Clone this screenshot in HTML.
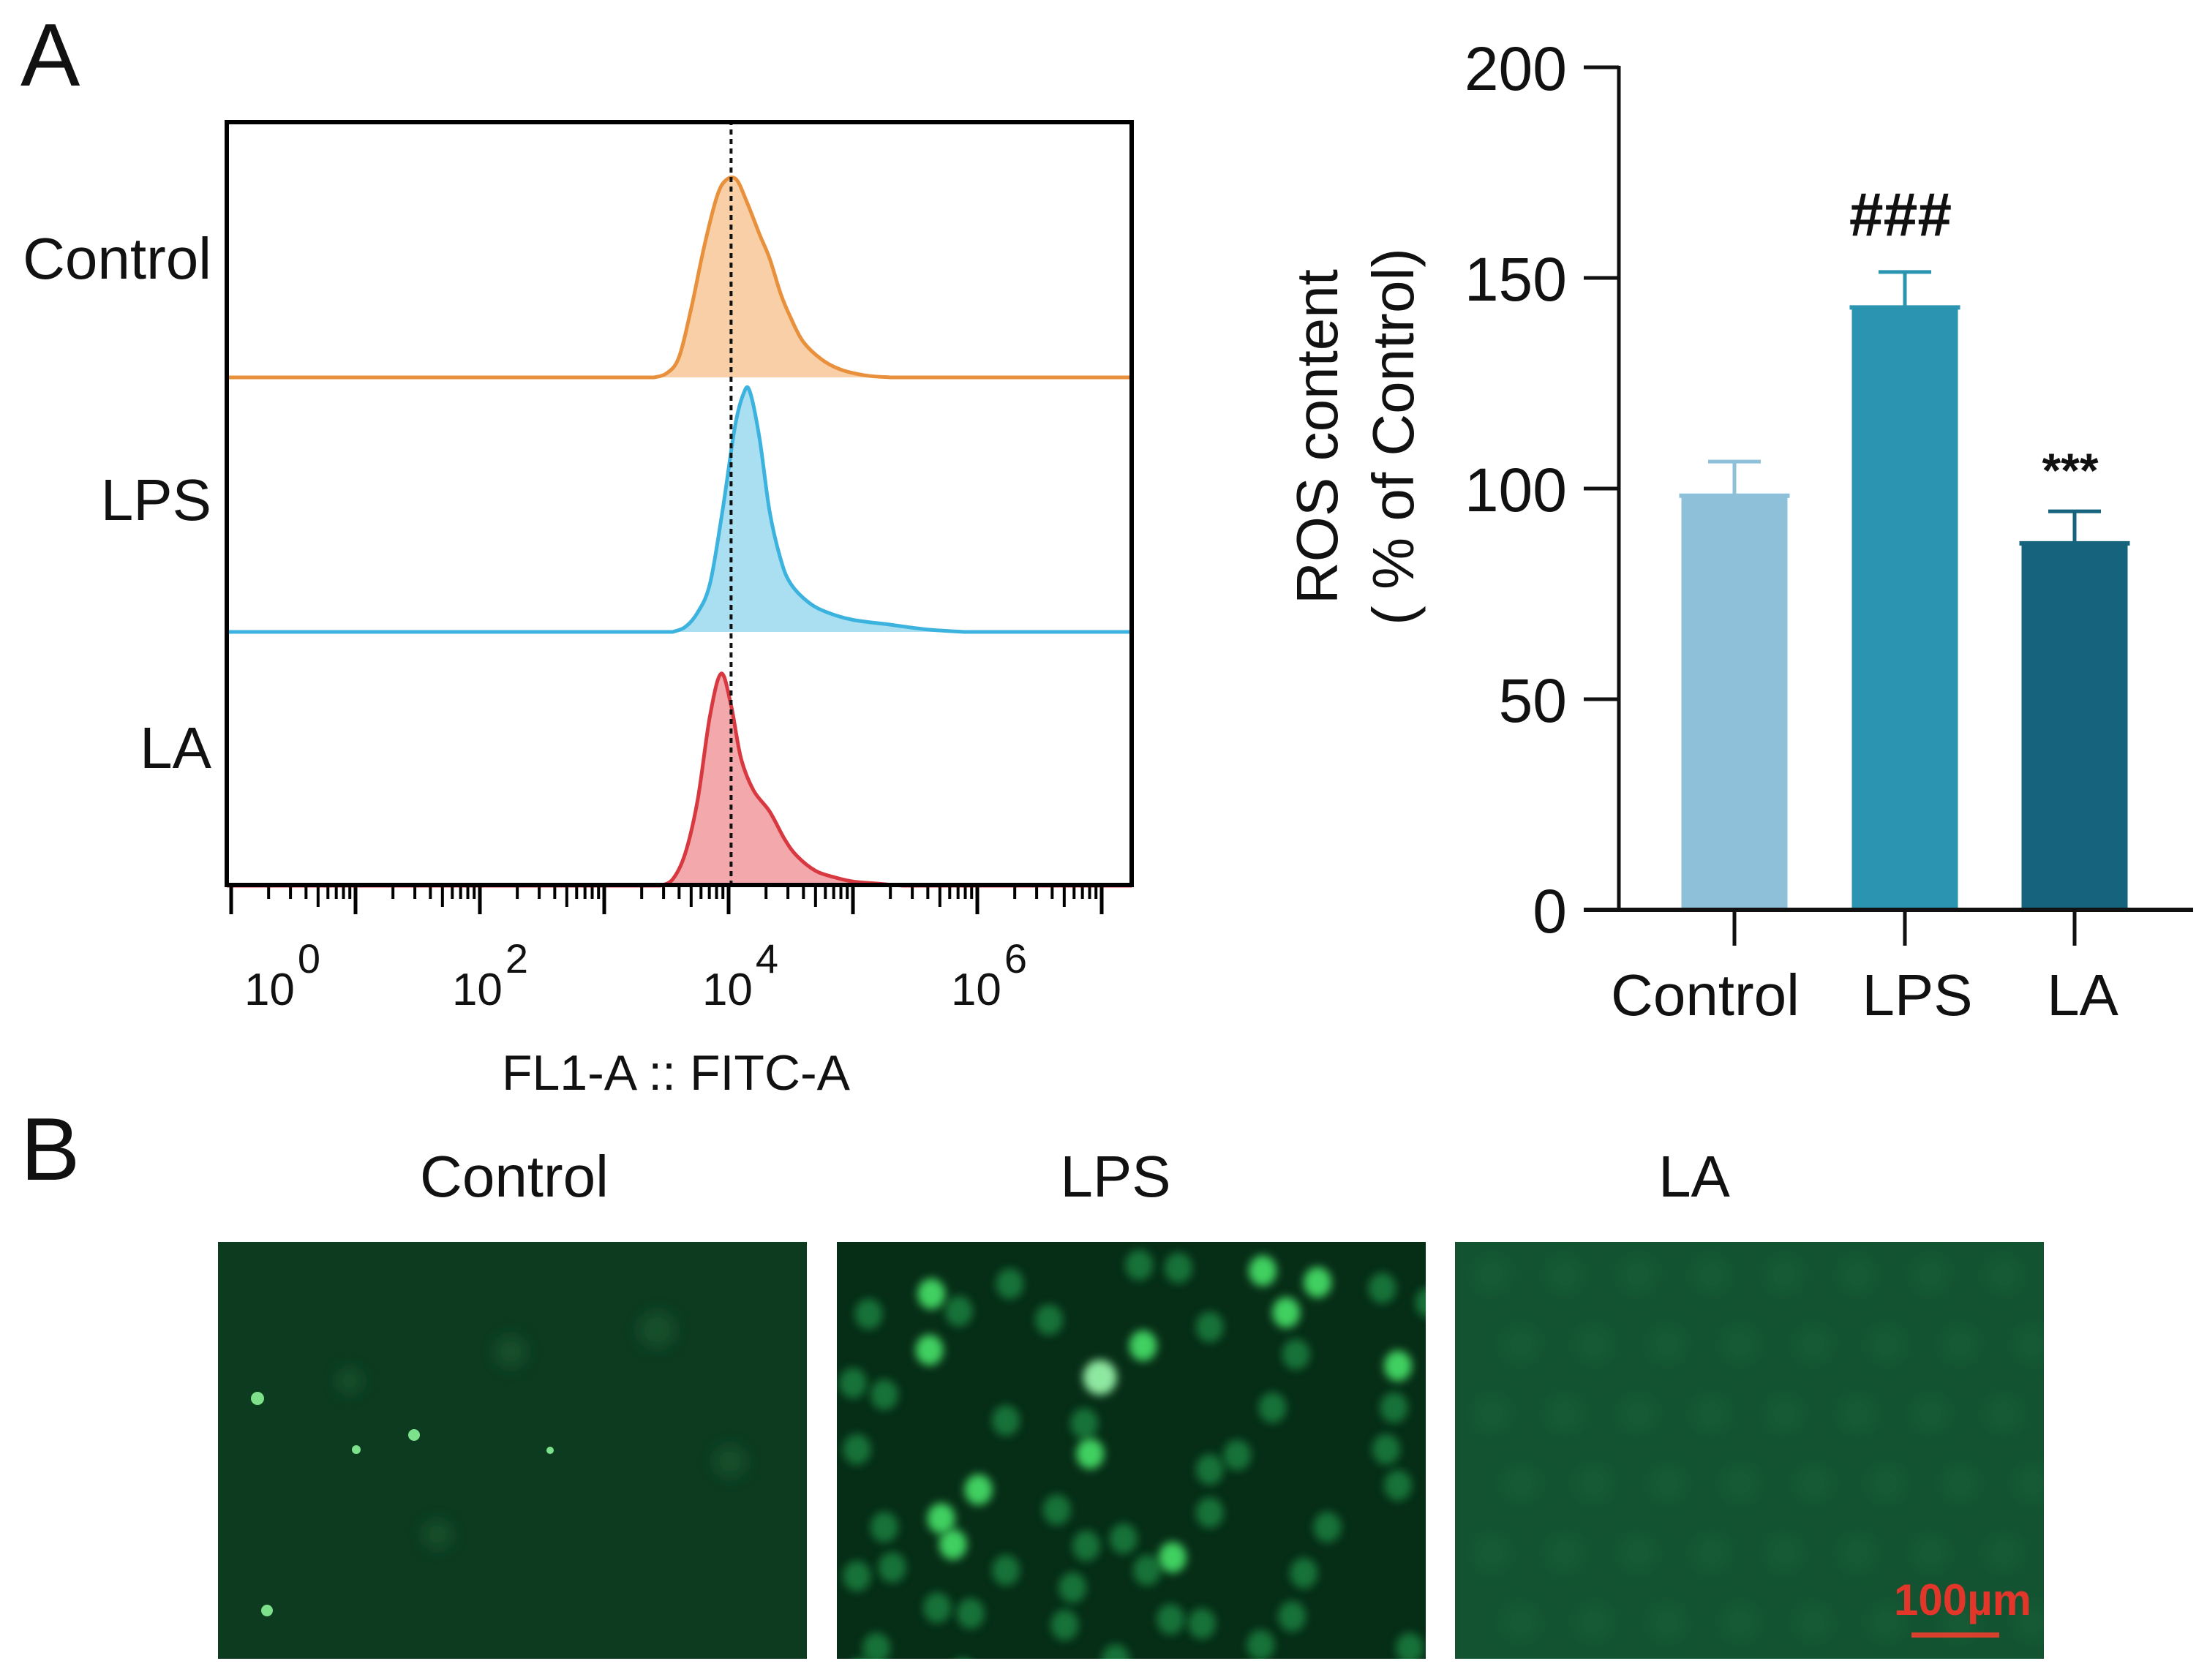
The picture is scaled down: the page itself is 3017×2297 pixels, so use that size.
<!DOCTYPE html>
<html><head><meta charset="utf-8"><style>
html,body{margin:0;padding:0;background:#fff;}
svg{display:block;font-family:"Liberation Sans",Arial,sans-serif;}
</style></head><body>
<svg id="fig" width="3017" height="2297" viewBox="0 0 3017 2297" xmlns="http://www.w3.org/2000/svg">
<defs>
<filter id="blur" x="-50%" y="-50%" width="200%" height="200%"><feGaussianBlur stdDeviation="6"/></filter>
<filter id="blur2" x="-50%" y="-50%" width="200%" height="200%"><feGaussianBlur stdDeviation="10"/></filter>
<clipPath id="clipImg2"><rect x="1144" y="1698" width="805" height="570"/></clipPath>
<clipPath id="clipImg1"><rect x="298" y="1698" width="805" height="570"/></clipPath>
<clipPath id="clipImg3"><rect x="1989" y="1698" width="805" height="570"/></clipPath>
</defs>
<text x="28" y="117" font-size="122" fill="#111">A</text>
<g id="histo"></g>
<g id="bars"></g>
<text x="28" y="1613" font-size="122" fill="#111">B</text>
<g id="micro"></g>
</svg>
<script>
// ---------- Histogram data ----------
const histGroups = ["Control","LPS","LA"];
const ctrlLog = [3.4,3.5,3.6,3.7,3.8,3.9,3.97,4.06,4.15,4.25,4.33,4.42,4.5,4.6,4.75,4.9,5.1,5.3];
const ctrlDen = [0,0.02,0.1,0.35,0.65,0.9,0.99,1.0,0.88,0.72,0.6,0.42,0.3,0.18,0.09,0.04,0.01,0];
const lpsLog = [3.55,3.65,3.75,3.85,3.95,4.05,4.12,4.17,4.25,4.33,4.42,4.5,4.65,4.8,5.0,5.3,5.6,5.9];
const lpsDen = [0,0.02,0.08,0.2,0.5,0.85,0.99,1.0,0.8,0.5,0.3,0.2,0.12,0.08,0.05,0.03,0.01,0];
const laLog = [3.45,3.55,3.65,3.75,3.85,3.94,4.02,4.1,4.2,4.33,4.45,4.55,4.7,4.85,5.0,5.2,5.4];
const laDen = [0,0.03,0.15,0.4,0.8,1.0,0.85,0.6,0.45,0.35,0.22,0.14,0.07,0.04,0.02,0.01,0];
const histDecadeLabels = ["0","2","4","6"];
const refLineLog = [4.02];

// ---------- Bar data ----------
const barCats = ["Control","LPS","LA"];
const barVals = [98.3,143,87];
const barErr = [8.1,8.4,7.6];
const barTicks = [0,50,100,150,200];
const barMarks = ["","###","***"];

const NS="http://www.w3.org/2000/svg";
function mk(tag,attrs,parent,text){const e=document.createElementNS(NS,tag);for(const k in attrs)e.setAttribute(k,attrs[k]);if(text!==undefined)e.textContent=text;parent.appendChild(e);return e;}

// ===== Histogram =====
const H=document.getElementById('histo');
const fx0=307, fx1=1550, fy0=164, fy1=1213;
const xL=v=>316+170*v;
const rows=[
 {name:"Control",xs:ctrlLog,ys:ctrlDen,base:516,h:271,stroke:"#e8903c",fill:"#f8cfa6",ly:381},
 {name:"LPS",xs:lpsLog,ys:lpsDen,base:864,h:329,stroke:"#3cb2de",fill:"#aadff2",ly:711},
 {name:"LA",xs:laLog,ys:laDen,base:1211,h:290,stroke:"#d8383f",fill:"#f3a9ab",ly:1050}
];
function smoothPath(pts){
  let d=`M${pts[0][0]},${pts[0][1]}`;
  for(let i=0;i<pts.length-1;i++){
    const p0=pts[Math.max(0,i-1)],p1=pts[i],p2=pts[i+1],p3=pts[Math.min(pts.length-1,i+2)];
    const c1=[p1[0]+(p2[0]-p0[0])/6,Math.min(p1[1]+(p2[1]-p0[1])/6, Math.max(p1[1],p2[1]))];
    const c2=[p2[0]-(p3[0]-p1[0])/6,Math.min(p2[1]-(p3[1]-p1[1])/6, Math.max(p1[1],p2[1]))];
    d+=` C${c1[0].toFixed(1)},${c1[1].toFixed(1)} ${c2[0].toFixed(1)},${c2[1].toFixed(1)} ${p2[0].toFixed(1)},${p2[1].toFixed(1)}`;
  }
  return d;
}
rows.forEach((r,ri)=>{
  const pts=r.xs.map((v,i)=>[xL(v), r.base - r.ys[i]*r.h]);
  const curve=smoothPath(pts);
  const fill=mk('path',{d:curve+` L${pts[pts.length-1][0]},${r.base} L${pts[0][0]},${r.base} Z`,fill:r.fill,stroke:'none'},H);
  
  
  const line=mk('path',{d:`M${fx0+3},${r.base} L`+curve.slice(1)+` L${fx1-3},${r.base}`,fill:'none',stroke:r.stroke,'stroke-width':5,'stroke-linejoin':'round'},H);
  
  
  const lab=mk('text',{x:289,y:r.ly,'font-size':80,'text-anchor':'end',fill:'#111'},H,r.name);
  
  
});
refLineLog.forEach(v=>{
  const l=mk('line',{x1:xL(v),x2:xL(v),y1:fy0,y2:fy1,stroke:'#111','stroke-width':4,'stroke-dasharray':'7 6'},H);
  
  
});
const frame=mk('rect',{x:fx0+3,y:fy0+3,width:fx1-fx0-6,height:fy1-fy0-6,fill:'none',stroke:'#000','stroke-width':6},H);


for(let d=0;d<=7;d++){
  const x=xL(d);
  const t=mk('line',{x1:x,x2:x,y1:fy1,y2:1250,stroke:'#000','stroke-width':5},H);
  
  
  if(d<7)for(let m=2;m<=9;m++){
    const xm=xL(d+Math.log10(m));
    if(xm>fx1-4)continue;
    const mt=mk('line',{x1:xm,x2:xm,y1:fy1,y2:(m===5?1240:1229),stroke:'#000','stroke-width':4},H);
    
    
  }
}
const labelX=[386,670,1012,1352];
histDecadeLabels.forEach((s,i)=>{
  const g=mk('text',{x:labelX[i],y:1374,'font-size':62,'text-anchor':'middle',fill:'#111'},H);
  
  
  mk('tspan',{},g,'10');
  mk('tspan',{dx:4,dy:-44,'font-size':56},g,s);
});
const xt=mk('text',{x:924,y:1490,'font-size':68,'text-anchor':'middle',fill:'#111'},H,'FL1-A :: FITC-A');



// ===== Bar chart =====
const B=document.getElementById('bars');
const yB=v=>1244-v*5.76;
const axX=2213;
const centers=[2371,2604,2836];
const barColors=["#8fc0da","#2b94b1","#16637d"];
const bw=145;
barCats.forEach((c,i)=>{
  const b=mk('rect',{x:centers[i]-bw/2,y:yB(barVals[i]),width:bw,height:yB(0)-yB(barVals[i]),fill:barColors[i]},B);
  
  
  const tl=mk('line',{x1:centers[i]-bw/2-3,x2:centers[i]+bw/2+3,y1:yB(barVals[i]),y2:yB(barVals[i]),stroke:barColors[i],'stroke-width':6},B);
  
  
  const ev=mk('line',{x1:centers[i],x2:centers[i],y1:yB(barVals[i]),y2:yB(barVals[i]+barErr[i]),stroke:barColors[i],'stroke-width':5},B);
  
  
  const ec=mk('line',{x1:centers[i]-36,x2:centers[i]+36,y1:yB(barVals[i]+barErr[i]),y2:yB(barVals[i]+barErr[i]),stroke:barColors[i],'stroke-width':5},B);
  
  
  const tk=mk('line',{x1:centers[i],x2:centers[i],y1:yB(0),y2:1293,stroke:'#111','stroke-width':5},B);
  
  
});
const catLabelX=[2331,2621,2847];
barCats.forEach((c,i)=>{
  const t=mk('text',{x:catLabelX[i],y:1388,'font-size':80,'text-anchor':'middle',fill:'#111'},B,c);
  
  
});
const yax=mk('line',{x1:axX,x2:axX,y1:yB(200)-2,y2:yB(0)+3,stroke:'#111','stroke-width':5},B);


const xax=mk('line',{x1:2165,x2:2998,y1:yB(0),y2:yB(0),stroke:'#111','stroke-width':6},B);


barTicks.forEach(v=>{
  const t=mk('line',{x1:2165,x2:axX,y1:yB(v),y2:yB(v),stroke:'#111','stroke-width':5},B);
  
  
  const l=mk('text',{x:2142,y:yB(v)+31,'font-size':84,'text-anchor':'end',fill:'#111'},B,String(v));
  
  
});
barMarks.forEach((m,i)=>{
  if(!m)return;
  const top=yB(barVals[i]+barErr[i]);
  const t=mk('text',{x:centers[i]-6,y:(m==='###'?top-50:top-33),'font-size':(m==='###'?84:66),'font-weight':'bold','text-anchor':'middle',fill:'#111'},B,m);
  
  
});
const yt=mk('text',{transform:'translate(1828,597) rotate(-90)','font-size':80,'text-anchor':'middle',fill:'#111'},B,'ROS content');


const yt2=mk('text',{transform:'translate(1932,597) rotate(-90)','font-size':80,'text-anchor':'middle',fill:'#111'},B,'( % of Control)');



// ===== Micrographs =====
const M=document.getElementById('micro');
const imgs=[{x:298,bg:"#0c3b20",t:"Control",tx:703},{x:1144,bg:"#062d16",t:"LPS",tx:1525},{x:1989,bg:"#135331",t:"LA",tx:2316}];
imgs.forEach(im=>{
  const r=mk('rect',{x:im.x,y:1698,width:805,height:570,fill:im.bg},M);
  
  
  const t=mk('text',{x:im.tx,y:1636,'font-size':80,'text-anchor':'middle',fill:'#111'},M,im.t);
  
  
});
const bright=[[230,150],[225,345],[660,440],[770,330],[635,705],[350,830],[255,930],[285,1020],[845,1065],[1215,110],[1135,215],[1075,70],[1420,400]];
const med=[[430,115],[70,220],[530,240],[940,265],[30,460],[420,590],[620,600],[40,690],[550,900],[940,760],[940,910],[1100,545],[1410,545],[1390,690],[1420,815],[1240,960],[110,960],[130,1100],[40,1130],[625,1025],[420,1110],[590,1170],[245,1240],[570,1300],[840,1280],[920,1295],[1180,1120],[1150,1270],[90,1380],[50,1470],[1070,1370],[1380,130],[860,60],[760,50],[1160,360],[1450,1380],[310,1470],[780,1110],[1500,180],[300,210],[110,500],[720,1000],[1010,710],[330,1260],[700,1420]];
const g2=mk('g',{'clip-path':'url(#clipImg2)'},M);
med.forEach(p=>{mk('ellipse',{cx:1150+p[0]/1.866,cy:1710+p[1]/2.54,rx:19,ry:21,fill:'#1f8a45',opacity:0.75,filter:'url(#blur)'},g2);});
bright.forEach((p,i)=>{mk('ellipse',{cx:1150+p[0]/1.866,cy:1710+p[1]/2.54,rx:(i===2?23:19),ry:(i===2?24:21),fill:(i===2?'#8ee8a0':'#3fd060'),filter:'url(#blur)'},g2);});
const g1=mk('g',{'clip-path':'url(#clipImg1)'},M);
[[54,214,9],[268,264,8],[189,284,6],[67,504,8],[454,285,5],[180,190,18],[400,150,22],[600,120,25],[300,400,20],[700,300,22]].forEach(p=>{
  mk('circle',{cx:298+p[0],cy:1698+p[1],r:p[2],fill:p[2]<10?'#7de08a':'#17502c',filter:p[2]<10?'':'url(#blur2)'},g1);
});
const g3=mk('g',{'clip-path':'url(#clipImg3)'},M);
for(let i=0;i<8;i++)for(let j=0;j<6;j++){
  mk('circle',{cx:1989+50+i*100+(j%2)*40,cy:1698+45+j*95,r:26,fill:'#1a6a3e',opacity:0.3,filter:'url(#blur2)'},g3);
}
const sb=mk('text',{x:2777,y:2208,'font-size':60,'font-weight':'bold','text-anchor':'end',fill:'#e2362a'},M,'100µm');


const sbl=mk('rect',{x:2613,y:2232,width:120,height:7,fill:'#d9402e'},M);


</script>
</body></html>
